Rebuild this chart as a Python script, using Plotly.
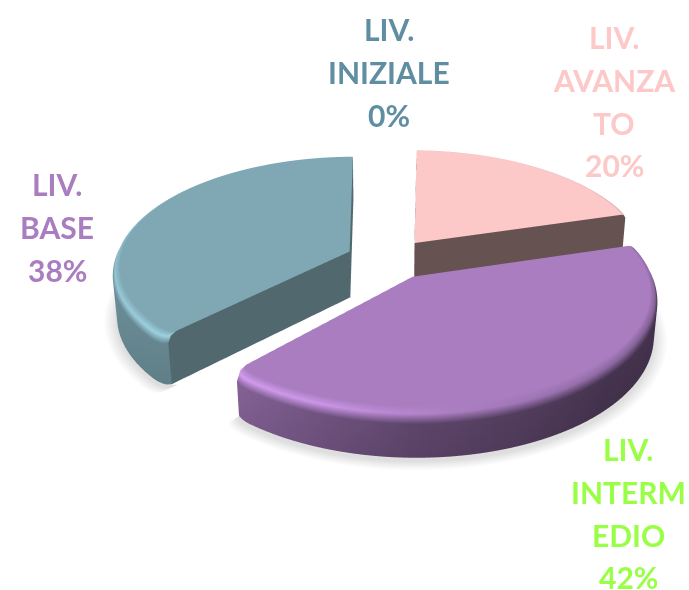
import numpy as np
import plotly.graph_objects as go

# ---- data ----
categories = ["LIV. AVANZATO", "LIV. INTERMEDIO", "LIV. BASE", "LIV. INIZIALE"]
values = [20, 42, 38, 0]
top_colors = [(252, 200, 200), (169, 125, 192), (127, 168, 180), (95, 142, 163)]
side_colors = [(102, 82, 80), (90, 66, 104), (82, 104, 111), (60, 90, 100)]
thickness = [0.19, 0.19, 0.225, 0.19]
inset_end = [-1.0, 1.0, 1.0, 1.0]
label_lines = [["LIV.", "AVANZA", "TO", "20%"], ["LIV.", "INTERM", "EDIO", "42%"],
               ["LIV.", "BASE", "38%"], ["LIV.", "INIZIALE", "0%"]]
label_colors = ["#fcc8c8", "#99ff44", "#a97dc0", "#5f8ea3"]
label_px = [(614, 37), (628, 449), (57, 184), (389, 29)]
line_step = 42.8

# ---- view of the tilted pie ----
W, H = 689, 590
ELEV, DIST, FOCAL, CX, CY = np.radians(28), 6.0, 240.0, 390.0, 258.5
EXPLODE, START, INSET, ROUND_DEG, ROUND_R = 0.183, 0.5, 1.0, 5.0, 0.04
ASPECT = 1.97


def project(X, Y, Z):
    X, Y, Z = map(np.asarray, (X, Y, Z))
    depth = DIST + Y * np.cos(ELEV) - Z * np.sin(ELEV)
    f = FOCAL * DIST / depth
    return CX + f * X, H - (CY - f * (Y * np.sin(ELEV) + Z * np.cos(ELEV))), -depth


WALL_A = [0, 90, 135, 180, 223, 270, 300, 360]
WALL_M = [.45, .40, .41, .55, .79, .87, .9, .9]
RIM_A = [0, 60, 120, 170, 200, 223, 270, 300, 360]
RIM_M = [.9, .85, .78, 1.0, 1.2, 1.25, 1.15, 1.1, 1.0]


def mul(c, m):
    return tuple(np.clip(np.array(c) * m, 0, 255))


def css(c):
    return "rgb(%d,%d,%d)" % tuple(int(round(v)) for v in c)


def front(deg):
    return 0.5 - 0.5 * np.cos(np.radians(deg))


class Mesh:
    def __init__(self):
        self.x, self.y, self.z, self.c, self.i, self.j, self.k = [], [], [], [], [], [], []

    def add(self, X, Y, Z, col, dz=0.0):
        a, b, d = project(X, Y, Z)
        self.x.append(float(a)); self.y.append(float(b)); self.z.append(float(d) + dz)
        self.c.append(css(col))
        return len(self.x) - 1

    def quad(self, p, q, r, s):
        self.i += [p, p]; self.j += [q, r]; self.k += [r, s]

    def tri(self, p, q, r):
        self.i.append(p); self.j.append(q); self.k.append(r)


mesh = Mesh()
total = sum(values)
start = START
for val, top, side, thick, ins_hi in zip(values, top_colors, side_colors, thickness, inset_end):
    sweep = 360.0 * val / total
    if sweep == 0:
        continue
    mid = np.radians(start + sweep / 2)
    ox, oy = EXPLODE * np.sin(mid), EXPLODE * np.cos(mid)
    a_lo, a_hi = start + INSET, start + sweep - ins_hi
    angs = np.unique(np.concatenate([np.linspace(a_lo, a_hi, int(sweep) + 2),
                                     np.linspace(a_lo, a_lo + ROUND_DEG, 8),
                                     np.linspace(a_hi - ROUND_DEG, a_hi, 8)]))
    rad = np.radians(angs)
    edge = np.minimum(angs - a_lo, a_hi - angs) / ROUND_DEG
    shrink = 1 - ROUND_R * front(angs) ** 2 * (1 - np.sqrt(np.clip(1 - (1 - np.clip(edge, 0, 1)) ** 2, 0, 1)))

    # soft floor shadow
    zf = -thick - 0.01
    for a0, a1, s0, s1 in zip(rad[:-1], rad[1:], shrink[:-1], shrink[1:]):
        pts = []
        for r, g in ((0.97, 222), (1.0, 222), (1.025, 238), (1.055, 255)):
            for a, s in ((a0, s0), (a1, s1)):
                pts.append(mesh.add(ox + r * s * np.sin(a), oy + r * s * np.cos(a) - 0.008, zf, (g, g, g), -3))
        for n in range(3):
            mesh.quad(pts[2 * n], pts[2 * n + 1], pts[2 * n + 3], pts[2 * n + 2])

    # outer surface: flat top -> bevel -> wall
    rows, profs = [], []
    centre = mesh.add(ox, oy, 0, top)
    for deg, a, s in zip(angs, rad, shrink):
        d = front(deg)
        wall = mul(top, np.interp(deg % 360, WALL_A, WALL_M))
        rim = mul(top, np.interp(deg % 360, RIM_A, RIM_M))
        prof = [(1 - 0.045 * d - 0.006, 0.0, top), (1 - 0.015 * d - 0.002, -0.012 * d, rim),
                (1.0, -0.003 - 0.042 * d, wall), (1.0, -thick, mul(wall, 0.95))]
        rows.append([mesh.add(ox + r * s * np.sin(a), oy + r * s * np.cos(a), z, c) for r, z, c in prof])
        profs.append(prof)
    for p, q in zip(rows[:-1], rows[1:]):
        mesh.tri(centre, p[0], q[0])
        for n in range(3):
            mesh.quad(p[n], q[n], q[n + 1], p[n + 1])

    # straight cut walls, following the bevel profile at each end
    for a, s, prof in ((rad[0], shrink[0], profs[0]), (rad[-1], shrink[-1], profs[-1])):
        ux, uy = s * np.sin(a), s * np.cos(a)
        outline = [mesh.add(ox + r * ux, oy + r * uy, z, side) for r, z, _ in prof]
        hub_top, hub_bot = mesh.add(ox, oy, 0, side), mesh.add(ox, oy, -thick, side)
        mesh.tri(hub_top, outline[0], outline[1])
        mesh.tri(hub_top, outline[1], outline[2])
        mesh.tri(hub_top, outline[2], outline[3])
        mesh.tri(hub_top, outline[3], hub_bot)
    start += sweep

fig = go.Figure(go.Mesh3d(
    x=mesh.x, y=mesh.y, z=mesh.z, i=mesh.i, j=mesh.j, k=mesh.k,
    vertexcolor=mesh.c, flatshading=False, hoverinfo="skip", showscale=False,
    lighting=dict(ambient=1, diffuse=0, specular=0, fresnel=0, roughness=1),
))

hidden = dict(visible=False, showgrid=False, zeroline=False, showbackground=False, showspikes=False)
fig.update_layout(
    width=W, height=H, margin=dict(l=0, r=0, t=0, b=0), paper_bgcolor="white", showlegend=False,
    scene=dict(
        domain=dict(x=[0, 1], y=[0, 1]),
        xaxis=dict(range=[0, W], **hidden), yaxis=dict(range=[0, H], **hidden),
        zaxis=dict(range=[-14, 0], **hidden),
        aspectmode="manual", aspectratio=dict(x=W / H * ASPECT, y=ASPECT, z=0.3),
        camera=dict(eye=dict(x=0, y=0, z=1.0), up=dict(x=0, y=1, z=0), center=dict(x=0, y=0, z=0),
                    projection=dict(type="orthographic")),
    ),
)

for lines, col, (px, py) in zip(label_lines, label_colors, label_px):
    for n, text in enumerate(lines):
        fig.add_annotation(text=text, x=px / W, y=1 - (py + n * line_step) / H, xref="paper", yref="paper",
                           xanchor="center", yanchor="middle", showarrow=False,
                           font=dict(family="Lato", size=30, color=col, weight="bold"))

fig.write_html("out.html", config={"displayModeBar": False}, post_script="document.body.style.margin='0';")
